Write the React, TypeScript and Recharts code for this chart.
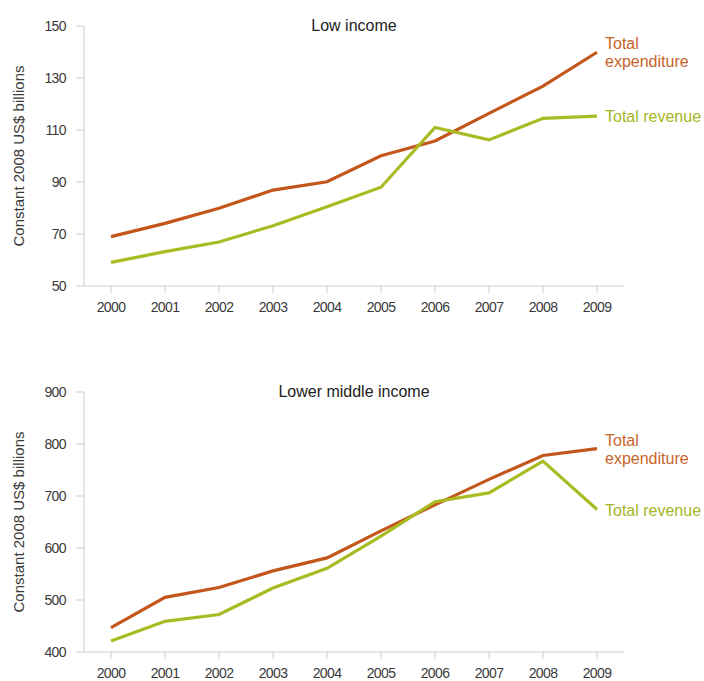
import { LineChart, Line, XAxis, YAxis, LabelList, Customized } from 'recharts'

const years = ['2000', '2001', '2002', '2003', '2004', '2005', '2006', '2007', '2008', '2009']

// Low income, constant 2008 US$ billions
const lowExpenditure = [69.0, 74.1, 79.9, 86.9, 90.1, 100.1, 105.8, 116.4, 126.9, 139.9]
const lowRevenue = [59.1, 63.2, 66.9, 73.2, 80.5, 88.0, 111.0, 106.2, 114.5, 115.3]
const lowTicks = [50, 70, 90, 110, 130, 150]

// Lower middle income
const lmExpenditure = [447, 505, 524, 556, 581, 633, 683, 732, 778, 791]
const lmRevenue = [421, 459, 472, 523, 561, 623, 689, 706, 767, 674]
const lmTicks = [400, 500, 600, 700, 800, 900]

const ORANGE = '#C2561B'
const GREEN = '#A9BB22'
const AXIS = '#CCCCCC'
const TEXT = '#3A3A3A'
const SANS = '"Liberation Sans", Arial, sans-serif'

const tickStyle = { fill: TEXT, fontFamily: SANS, fontSize: 14, letterSpacing: -0.6 }

type PanelProps = {
	title: string
	expenditure: number[]
	revenue: number[]
	ticks: number[]
	top: number
}

const endLabel = (lines: string[], color: string, dyFirst: number) => (props: any) => {
	const { x, y, index } = props
	if (index !== years.length - 1) return null
	return (
		<text x={x + 8} y={y + dyFirst} fill={color} fontFamily={SANS} fontSize={16}>
			{lines.map((l, i) => (
				<tspan key={i} x={x + 8} dy={i === 0 ? 0 : 18}>
					{l}
				</tspan>
			))}
		</text>
	)
}

const Panel = ({ title, expenditure, revenue, ticks, top }: PanelProps) => {
	const data = years.map((year, i) => ({
		year,
		expenditure: expenditure[i],
		revenue: revenue[i],
	}))

	return (
		<div style={{ position: 'absolute', left: 0, top }}>
			<LineChart
				width={704}
				height={316}
				data={data}
				margin={{ top: 26, right: 80, left: 0, bottom: 0 }}
			>
				<XAxis
					dataKey='year'
					padding={{ left: 27, right: 27 }}
					stroke={AXIS}
					tickSize={7}
					tickMargin={9}
					height={30}
					tick={tickStyle}
				/>
				<YAxis
					domain={[ticks[0], ticks[ticks.length - 1]]}
					ticks={ticks}
					width={84}
					stroke={AXIS}
					tickSize={8}
					tickMargin={10}
					interval={0}
					tick={tickStyle}
				/>
				<Line
					dataKey='expenditure'
					stroke={ORANGE}
					strokeWidth={3.2}
					dot={false}
					isAnimationActive={false}
				>
					<LabelList content={endLabel(['Total', 'expenditure'], '#C8642A', -3)} />
				</Line>
				<Line
					dataKey='revenue'
					stroke={GREEN}
					strokeWidth={3.2}
					dot={false}
					isAnimationActive={false}
				>
					<LabelList content={endLabel(['Total revenue'], '#A6B524', 6)} />
				</Line>
				<Customized
					component={() => (
						<g>
							<text
								x={354}
								y={31}
								textAnchor='middle'
								fill='#222'
								fontFamily={SANS}
								fontSize={16}
							>
								{title}
							</text>
							<text
								transform='translate(24 156) rotate(-90)'
								textAnchor='middle'
								fill={TEXT}
								fontFamily={SANS}
								fontSize={15}
							>
								Constant 2008 US$ billions
							</text>
						</g>
					)}
				/>
			</LineChart>
		</div>
	)
}

const App = () => {
	return (
		<div
			style={{
				position: 'absolute',
				left: 0,
				top: 0,
				width: 704,
				height: 681,
				background: '#fff',
			}}
		>
			<Panel title='Low income' expenditure={lowExpenditure} revenue={lowRevenue} ticks={lowTicks} top={0} />
			<Panel
				title='Lower middle income'
				expenditure={lmExpenditure}
				revenue={lmRevenue}
				ticks={lmTicks}
				top={366}
			/>
		</div>
	)
}

export default App
